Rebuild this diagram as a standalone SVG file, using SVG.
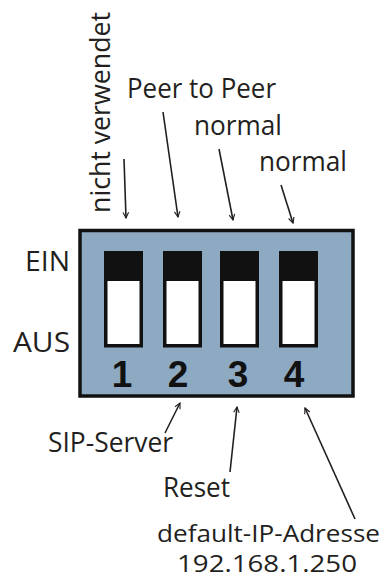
<svg xmlns="http://www.w3.org/2000/svg" width="385" height="579" viewBox="0 0 385 579">
<defs>
<style>
.t{font-family:"Open Sans","Noto Sans","Liberation Sans",sans-serif;font-size:26.5px;fill:#231f20}
.s{font-size:24px}
.n{font-family:"Liberation Sans",Arial,sans-serif;font-size:37px;font-weight:bold;fill:#111;text-anchor:middle}
.sw-body{fill:#fff;stroke:#111;stroke-width:3.5}
.sw-knob{fill:#111}
.c{stroke:#231f20;stroke-width:1.6;fill:none;marker-end:url(#ah)}
</style>
<marker id="ah" viewBox="0 0 10 10" refX="9" refY="5" markerWidth="7" markerHeight="7" orient="auto" markerUnits="userSpaceOnUse">
<path d="M1,1 L9,5 L1,9" fill="none" stroke="#231f20" stroke-width="1.6"/>
</marker>
</defs>
<rect width="385" height="579" fill="#fff"/>
<g id="dip">
<rect x="80" y="230.5" width="273" height="165.5" fill="#8eaac2" stroke="#111" stroke-width="3.5"/>
</g>
<g id="switch1">
<rect class="sw-body" x="105.75" y="252.75" width="35.5" height="93"/>
<rect class="sw-knob" x="104" y="251" width="39" height="30"/>
<text class="n" x="122" y="387">1</text>
</g>
<g id="switch2">
<rect class="sw-body" x="164.75" y="252.75" width="35.5" height="93"/>
<rect class="sw-knob" x="163" y="251" width="39" height="30"/>
<text class="n" x="178" y="387">2</text>
</g>
<g id="switch3">
<rect class="sw-body" x="221.75" y="252.75" width="35.5" height="93"/>
<rect class="sw-knob" x="220" y="251" width="39" height="30"/>
<text class="n" x="238" y="387">3</text>
</g>
<g id="switch4">
<rect class="sw-body" x="280.75" y="252.75" width="35.5" height="93"/>
<rect class="sw-knob" x="279" y="251" width="39" height="30"/>
<text class="n" x="294" y="387">4</text>
</g>
<g id="label-ein"><text class="t" x="25" y="271" textLength="45" lengthAdjust="spacingAndGlyphs">EIN</text></g>
<g id="label-aus"><text class="t" x="13" y="352" textLength="57" lengthAdjust="spacingAndGlyphs">AUS</text></g>
<g id="label-nicht"><text class="t" transform="translate(110,213) rotate(-90)" textLength="201" lengthAdjust="spacingAndGlyphs">nicht verwendet</text></g>
<g id="label-p2p"><text class="t" x="127" y="98" textLength="149" lengthAdjust="spacingAndGlyphs">Peer to Peer</text></g>
<g id="label-normal3"><text class="t" x="194" y="135" textLength="88" lengthAdjust="spacingAndGlyphs">normal</text></g>
<g id="label-normal4"><text class="t" x="259" y="171" textLength="88" lengthAdjust="spacingAndGlyphs">normal</text></g>
<g id="label-sip"><text class="t" x="48" y="452" textLength="125" lengthAdjust="spacingAndGlyphs">SIP-Server</text></g>
<g id="label-reset"><text class="t" x="163" y="497" textLength="67" lengthAdjust="spacingAndGlyphs">Reset</text></g>
<g id="label-default"><text class="t s" x="157" y="542" textLength="223" lengthAdjust="spacingAndGlyphs">default-IP-Adresse</text><text class="t s" x="177" y="572" textLength="180" lengthAdjust="spacingAndGlyphs">192.168.1.250</text></g>
<g id="connectors">
<line class="c" x1="124" y1="159" x2="126" y2="218"/>
<line class="c" x1="163" y1="112" x2="178" y2="217"/>
<line class="c" x1="219" y1="149" x2="233" y2="220"/>
<line class="c" x1="281" y1="185" x2="293" y2="223"/>
<line class="c" x1="165" y1="433" x2="180" y2="403"/>
<line class="c" x1="230" y1="472" x2="237" y2="407"/>
<line class="c" x1="355" y1="519" x2="305" y2="408"/>
</g>
</svg>
